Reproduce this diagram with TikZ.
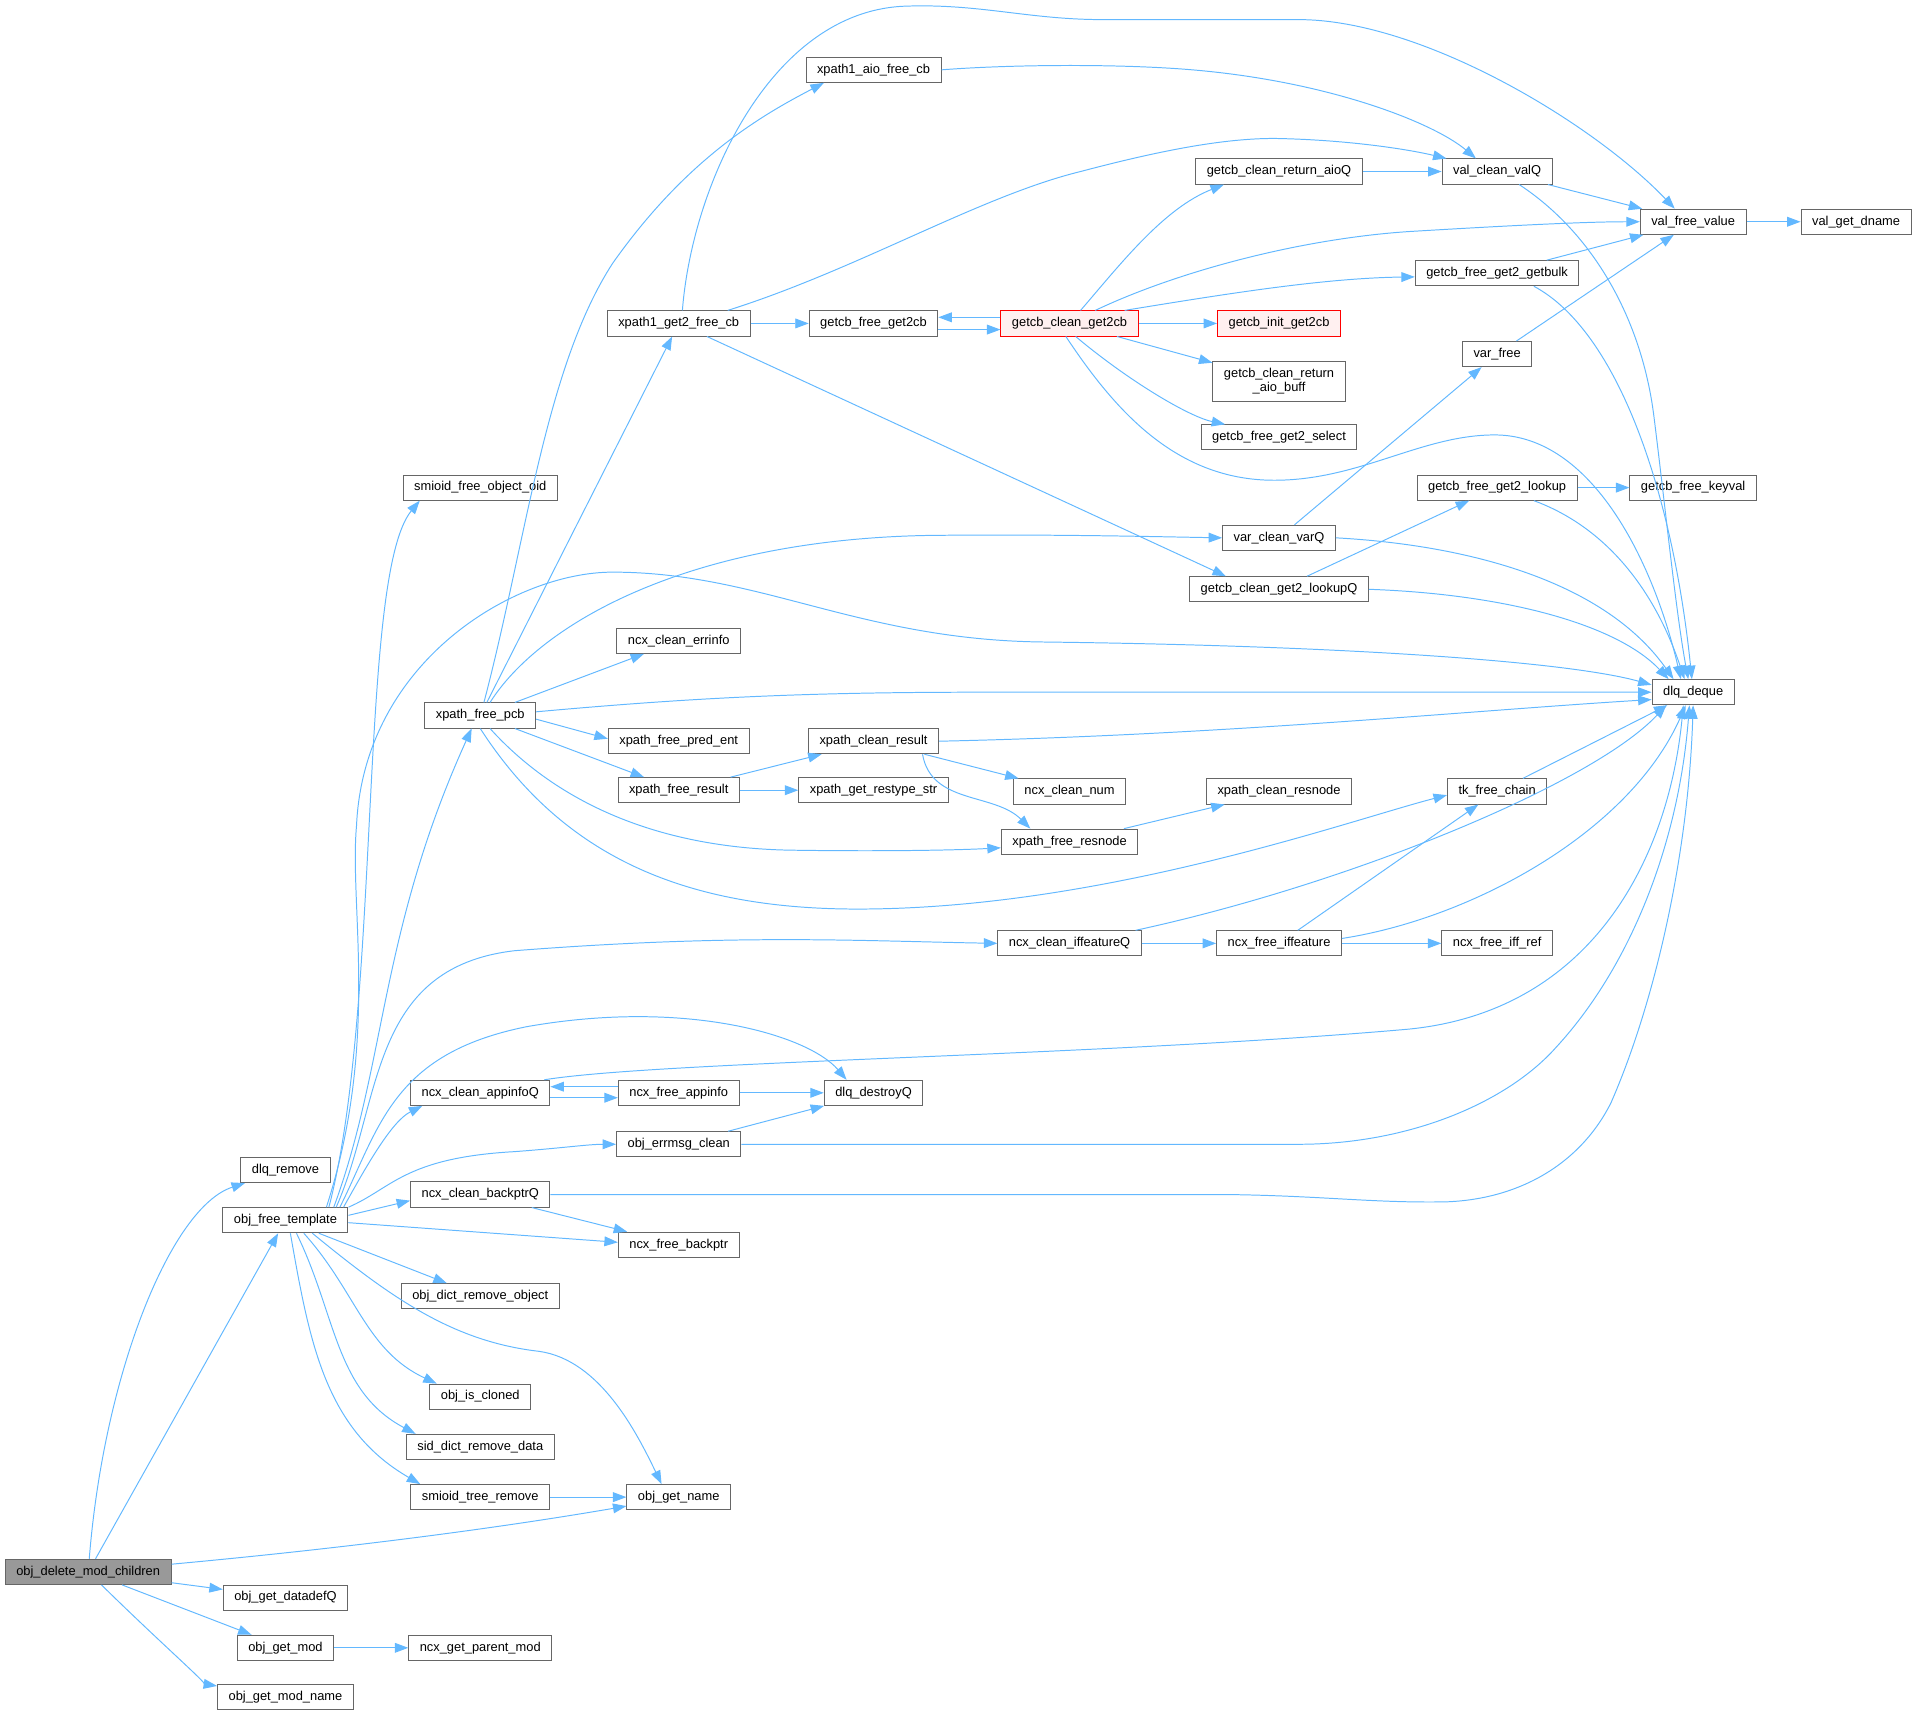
\documentclass[tikz,border=0pt]{standalone}
\usepackage{fontspec}
\setmainfont{Liberation Sans}
\usetikzlibrary{arrows.meta}
\definecolor{callblue}{HTML}{63B8FF}
\definecolor{fnborder}{HTML}{666666}
\definecolor{rootfill}{HTML}{999999}
\definecolor{hotfill}{HTML}{FFF0F0}

\begin{document}
\begin{tikzpicture}
                [x=1pt, y=-1pt,
                    fn/.style={draw=fnborder, fill=white, line width=0.8pt, inner xsep=9pt, inner ysep=0pt,
                        minimum height=20.5pt, font=\fontsize{10.5}{12}\selectfont},
                    root/.style={fn, fill=rootfill},
                    hot/.style={fn, draw=red, fill=hotfill},
                    call/.style={draw=callblue, line width=0.8pt, -{Triangle[length=11pt,width=8pt]}},
                ]
                \useasboundingbox (0,0) rectangle (1568,1400);
                % functions, column by column
                \node[root] (objdelmod) at (72,1283) {obj\_delete\_mod\_children};
                \node[fn] (dlqremove) at (233,955) {dlq\_remove};
                \node[fn] (objfreetpl) at (233,996) {obj\_free\_template};
                \node[fn] (objgetdatadef) at (233,1304) {obj\_get\_datadefQ};
                \node[fn] (objgetmod) at (233,1345) {obj\_get\_mod};
                \node[fn] (objgetmodname) at (233,1385) {obj\_get\_mod\_name};
                \node[fn] (smioidfreeoid) at (392,398) {smioid\_free\_object\_oid};
                \node[fn] (xpfreepcb) at (392,584) {xpath\_free\_pcb};
                \node[fn] (ncxcleanappinfo) at (392,892) {ncx\_clean\_appinfoQ};
                \node[fn] (ncxcleanbackptr) at (392,975) {ncx\_clean\_backptrQ};
                \node[fn] (objdictremove) at (392,1058) {obj\_dict\_remove\_object};
                \node[fn] (objiscloned) at (392,1140) {obj\_is\_cloned};
                \node[fn] (siddictremove) at (392,1181) {sid\_dict\_remove\_data};
                \node[fn] (smioidtreeremove) at (392,1222) {smioid\_tree\_remove};
                \node[fn] (ncxgetparent) at (392,1345) {ncx\_get\_parent\_mod};
                \node[fn] (xp1get2free) at (554,264) {xpath1\_get2\_free\_cb};
                \node[fn] (ncxcleanerrinfo) at (554,523) {ncx\_clean\_errinfo};
                \node[fn] (xpfreepred) at (554,605) {xpath\_free\_pred\_ent};
                \node[fn] (xpfreeresult) at (554,645) {xpath\_free\_result};
                \node[fn] (ncxfreeappinfo) at (554,892) {ncx\_free\_appinfo};
                \node[fn] (objerrmsg) at (554,934) {obj\_errmsg\_clean};
                \node[fn] (ncxfreebackptr) at (554,1016) {ncx\_free\_backptr};
                \node[fn] (objgetname) at (554,1222) {obj\_get\_name};
                \node[fn] (xp1aiofree) at (713,57) {xpath1\_aio\_free\_cb};
                \node[fn] (getcbfreeget2cb) at (713,264) {getcb\_free\_get2cb};
                \node[fn] (xpcleanresult) at (713,605) {xpath\_clean\_result};
                \node[fn] (xpgetrestype) at (713,645) {xpath\_get\_restype\_str};
                \node[fn] (dlqdestroy) at (713,892) {dlq\_destroyQ};
                \node[hot] (getcbcleanget2cb) at (873,264) {getcb\_clean\_get2cb};
                \node[fn] (ncxcleannum) at (873,646) {ncx\_clean\_num};
                \node[fn] (xpfreeresnode) at (873,687) {xpath\_free\_resnode};
                \node[fn] (ncxcleaniff) at (873,770) {ncx\_clean\_iffeatureQ};
                \node[fn] (getcbretaioq) at (1044,140) {getcb\_clean\_return\_aioQ};
                \node[hot] (getcbinit) at (1044,264) {getcb\_init\_get2cb};
                \node[fn, align=center, inner ysep=5.5pt] (getcbretaiobuff) at (1044,311) {getcb\_clean\_return\\\_aio\_buff};
                \node[fn] (getcbselect) at (1044,357) {getcb\_free\_get2\_select};
                \node[fn] (varcleanvarq) at (1044,439) {var\_clean\_varQ};
                \node[fn] (getcblookupq) at (1044,481) {getcb\_clean\_get2\_lookupQ};
                \node[fn] (xpcleanresnode) at (1044,646) {xpath\_clean\_resnode};
                \node[fn] (ncxfreeiff) at (1044,770) {ncx\_free\_iffeature};
                \node[fn] (valcleanvalq) at (1222,140) {val\_clean\_valQ};
                \node[fn] (getcbgetbulk) at (1222,223) {getcb\_free\_get2\_getbulk};
                \node[fn] (varfree) at (1222,289) {var\_free};
                \node[fn] (getcblookup) at (1222,398) {getcb\_free\_get2\_lookup};
                \node[fn] (tkfreechain) at (1222,646) {tk\_free\_chain};
                \node[fn] (ncxfreeiffref) at (1222,770) {ncx\_free\_iff\_ref};
                \node[fn] (valfreevalue) at (1382,181) {val\_free\_value};
                \node[fn] (getcbkeyval) at (1382,398) {getcb\_free\_keyval};
                \node[fn] (dlqdeque) at (1382,565) {dlq\_deque};
                \node[fn] (valgetdname) at (1515,181) {val\_get\_dname};

                % calls of obj_delete_mod_children
                \draw[call] (objdelmod) .. controls (85,1120) and (140,985) .. (dlqremove);
                \draw[call] (objdelmod) -- (objfreetpl);
                \draw[call] (objdelmod) .. controls (300,1262) and (420,1245) .. (objgetname);
                \draw[call] (objdelmod) -- (objgetdatadef);
                \draw[call] (objdelmod) -- (objgetmod);
                \draw[call] (objdelmod) .. controls (130,1340) and (170,1375) .. (objgetmodname);
                \draw[call] (objgetmod) -- (ncxgetparent);

                % calls of obj_free_template
                \draw[call] ([xshift=-16pt]objfreetpl.north east) .. controls (312,820) and (292,470) .. ([xshift=14pt]smioidfreeoid.south west);
                \draw[call] ([xshift=-12pt]objfreetpl.north east) .. controls (315,870) and (310,760) .. ([xshift=-7pt]xpfreepcb.south);
                \draw[call] ([xshift=-18pt]objfreetpl.north east) .. controls (310,850) and (285,740) .. (291,674)
                    .. controls (297,540) and (420,467) .. (500,467) .. controls (620,467) and (700,522) .. (850,524)
                    .. controls (1100,527) and (1280,540) .. ([yshift=6pt]dlqdeque.west);
                \draw[call] ([xshift=-10pt]objfreetpl.north east) .. controls (312,900) and (300,790) .. (420,776)
                    .. controls (600,762) and (700,768) .. (ncxcleaniff.west);
                \draw[call] ([xshift=-7pt]objfreetpl.north east) .. controls (310,920) and (320,860) .. (430,838)
                    .. controls (560,815) and (660,845) .. ([xshift=-22pt]dlqdestroy.north);
                \draw[call] ([xshift=-4pt]objfreetpl.north east) .. controls (300,950) and (320,915) .. ([xshift=10pt]ncxcleanappinfo.south west);
                \draw[call] (objfreetpl.north east) .. controls (320,970) and (330,945) .. (420,940)
                    .. controls (460,937) and (480,934) .. (objerrmsg.west);
                \draw[call] ([yshift=4pt]objfreetpl.east) -- ([yshift=-5pt]ncxcleanbackptr.west);
                \draw[call] ([yshift=-2pt]objfreetpl.east) -- ([yshift=2pt]ncxfreebackptr.west);
                \draw[call] (objfreetpl) -- (objdictremove);
                \draw[call] ([xshift=15pt]objfreetpl.south) to[out=-48,in=155] ([xshift=6pt]objiscloned.north west);
                \draw[call] ([xshift=9pt]objfreetpl.south) to[out=-64,in=152] ([xshift=8pt]siddictremove.north west);
                \draw[call] ([xshift=4pt]objfreetpl.south) to[out=-80,in=150] ([xshift=8pt]smioidtreeremove.north west);
                \draw[call] ([xshift=22pt]objfreetpl.south) .. controls (320,1060) and (370,1095) .. (440,1103)
                    .. controls (490,1110) and (520,1170) .. ([xshift=-14pt]objgetname.north);
                \draw[call] (smioidtreeremove) -- (objgetname);

                % appinfo, errmsg, backptr
                \draw[call] ([yshift=-4pt]ncxcleanappinfo.east) -- ([yshift=-4pt]ncxfreeappinfo.west);
                \draw[call] ([yshift=5pt]ncxfreeappinfo.west) -- ([yshift=5pt]ncxcleanappinfo.east);
                \draw[call] ([xshift=-5pt]ncxcleanappinfo.north east) .. controls (540,866) and (900,862) .. (1150,840)
                    .. controls (1300,825) and (1362,700) .. ([xshift=-8pt]dlqdeque.south);
                \draw[call] (ncxfreeappinfo) -- (dlqdestroy);
                \draw[call] (objerrmsg) -- (dlqdestroy);
                \draw[call] (objerrmsg.east) -- (1060,934) .. controls (1150,934) and (1230,900) .. (1270,855)
                    .. controls (1330,790) and (1370,690) .. ([xshift=-3pt]dlqdeque.south);
                \draw[call] (ncxcleanbackptr.east) -- (1000,975) .. controls (1080,976) and (1120,982) .. (1180,981)
                    .. controls (1240,979) and (1290,950) .. (1315,900) .. controls (1350,820) and (1378,700) .. (dlqdeque.south);
                \draw[call] (ncxcleanbackptr) -- (ncxfreebackptr);

                % iffeature
                \draw[call] (ncxcleaniff) -- (ncxfreeiff);
                \draw[call] ([xshift=-5pt]ncxcleaniff.north east) .. controls (1100,722) and (1300,640) .. ([xshift=12pt]dlqdeque.south west);
                \draw[call] (ncxfreeiff) -- (tkfreechain);
                \draw[call] (ncxfreeiff) -- (ncxfreeiffref);
                \draw[call] ([yshift=4pt]ncxfreeiff.east) .. controls (1200,750) and (1330,680) .. ([xshift=-6pt]dlqdeque.south);
                \draw[call] (tkfreechain) -- (dlqdeque);

                % calls of xpath_free_pcb
                \draw[call] ([xshift=3pt]xpfreepcb.north) .. controls (430,440) and (445,300) .. (500,215)
                    .. controls (560,130) and (620,95) .. ([xshift=15pt]xp1aiofree.south west);
                \draw[call] (xpfreepcb) -- (xp1get2free);
                \draw[call] ([xshift=8pt]xpfreepcb.north) .. controls (440,510) and (560,440) .. (760,437)
                    .. controls (860,436) and (940,438) .. (varcleanvarq.west);
                \draw[call] (xpfreepcb) -- (ncxcleanerrinfo);
                \draw[call] ([yshift=3pt]xpfreepcb.east) .. controls (560,570) and (650,565) .. (800,565) -- (dlqdeque.west);
                \draw[call] ([yshift=-3pt]xpfreepcb.east) -- ([yshift=2pt]xpfreepred.west);
                \draw[call] (xpfreepcb) -- (xpfreeresult);
                \draw[call] ([xshift=8pt]xpfreepcb.south) .. controls (450,650) and (530,693) .. (650,694)
                    .. controls (720,695) and (780,694) .. ([yshift=-5pt]xpfreeresnode.west);
                \draw[call] (xpfreepcb.south) .. controls (460,700) and (560,742) .. (700,742)
                    .. controls (900,742) and (1100,670) .. ([yshift=-3pt]tkfreechain.west);

                % results
                \draw[call] (xpfreeresult) -- (xpcleanresult);
                \draw[call] (xpfreeresult) -- (xpgetrestype);
                \draw[call] (xpcleanresult.east) .. controls (1000,600) and (1200,580) .. ([yshift=-6pt]dlqdeque.west);
                \draw[call] (xpcleanresult) -- (ncxcleannum);
                \draw[call] ([xshift=40pt]xpcleanresult.south) to[out=-80,in=135] ([xshift=-32pt]xpfreeresnode.north);
                \draw[call] (xpfreeresnode) -- (xpcleanresnode);

                % calls of xpath1_get2_free_cb and xpath1_aio_free_cb
                \draw[call] ([xshift=3pt]xp1get2free.north) .. controls (565,150) and (630,8) .. (740,5)
                    .. controls (800,3) and (840,16) .. (900,16) -- (1060,16)
                    .. controls (1160,16) and (1300,100) .. ([xshift=-15pt]valfreevalue.north);
                \draw[call] ([xshift=40pt]xp1get2free.north) .. controls (700,220) and (800,160) .. (882,140)
                    .. controls (950,122) and (1000,113) .. (1040,113)
                    .. controls (1100,114) and (1150,122) .. ([xshift=4pt]valcleanvalq.north west);
                \draw[call] (xp1get2free) -- (getcbfreeget2cb);
                \draw[call] (xp1get2free) -- ([xshift=30pt]getcblookupq.north west);
                \draw[call] (xp1aiofree.east) .. controls (820,53) and (900,52) .. (960,56)
                    .. controls (1080,64) and (1170,100) .. ([xshift=28pt]valcleanvalq.north west);

                % calls of getcb_clean_get2cb
                \draw[call] ([yshift=-5pt]getcbfreeget2cb.east) -- ([yshift=-5pt]getcbcleanget2cb.west);
                \draw[call] ([yshift=5pt]getcbcleanget2cb.west) -- ([yshift=5pt]getcbfreeget2cb.east);
                \draw[call] ([xshift=9pt]getcbcleanget2cb.north) .. controls (915,215) and (950,170) .. ([xshift=-45pt]getcbretaioq.south);
                \draw[call] ([xshift=21pt]getcbcleanget2cb.north) .. controls (960,222) and (1060,195) .. (1150,189)
                    .. controls (1250,183) and (1300,181) .. (valfreevalue.west);
                \draw[call] ([xshift=45pt]getcbcleanget2cb.north) .. controls (1000,240) and (1080,227) .. ([yshift=-3pt]getcbgetbulk.west);
                \draw[call] (getcbcleanget2cb) -- (getcbinit);
                \draw[call] (getcbcleanget2cb) -- (getcbretaiobuff);
                \draw[call] ([xshift=5pt]getcbcleanget2cb.south) .. controls (920,310) and (970,340) .. ([xshift=20pt]getcbselect.north west);
                \draw[call] ([xshift=-3pt]getcbcleanget2cb.south) .. controls (910,335) and (960,392) .. (1040,392)
                    .. controls (1110,392) and (1160,355) .. (1220,355)
                    .. controls (1300,355) and (1350,460) .. ([xshift=-10pt]dlqdeque.north);

                % right side
                \draw[call] (getcbretaioq) -- (valcleanvalq);
                \draw[call] (valcleanvalq) -- (valfreevalue);
                \draw[call] ([xshift=18pt]valcleanvalq.south) .. controls (1300,190) and (1340,260) .. (1350,340)
                    .. controls (1360,420) and (1368,500) .. ([xshift=-4pt]dlqdeque.north);
                \draw[call] (getcbgetbulk) -- (valfreevalue);
                \draw[call] ([xshift=30pt]getcbgetbulk.south) .. controls (1320,270) and (1365,400) .. ([xshift=-1pt]dlqdeque.north);
                \draw[call] (varfree) -- (valfreevalue);
                \draw[call] (varcleanvarq) -- (varfree);
                \draw[call] (varcleanvarq.east) .. controls (1200,445) and (1310,475) .. ([xshift=-16pt]dlqdeque.north);
                \draw[call] (getcblookupq) -- (getcblookup);
                \draw[call] (getcblookupq.east) .. controls (1230,485) and (1320,510) .. ([xshift=-20pt]dlqdeque.north);
                \draw[call] (getcblookup) -- (getcbkeyval);
                \draw[call] ([xshift=30pt]getcblookup.south) .. controls (1310,430) and (1350,480) .. ([xshift=-7pt]dlqdeque.north);
                \draw[call] (valfreevalue) -- (valgetdname);
            \end{tikzpicture}
\end{document}
